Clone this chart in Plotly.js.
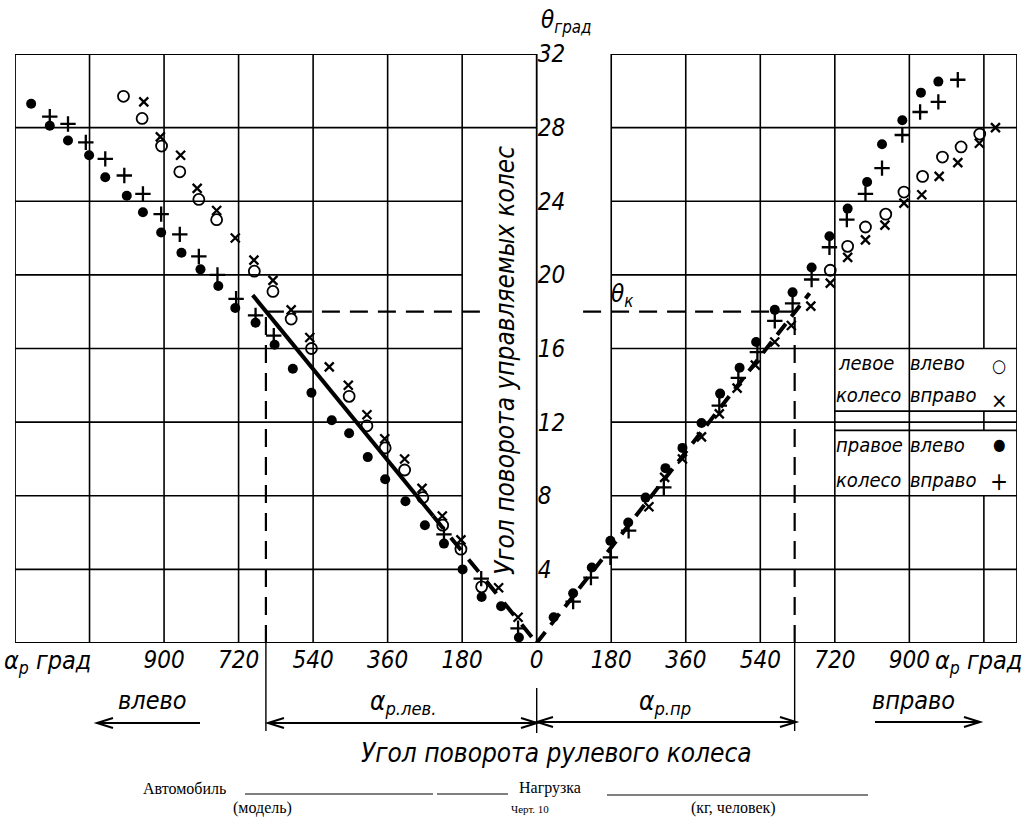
<!DOCTYPE html>
<html>
<head>
<meta charset="utf-8">
<script src="https://cdn.plot.ly/plotly-3.0.1.min.js"></script>
<style>html,body{margin:0;padding:0;background:#fff;}#chart{width:1028px;height:818px;}</style>
</head>
<body>
<div id="chart"></div>
<script>
// ---------- data (alpha in degrees, theta in degrees) ----------
// левое колесо, влево (open circle)
const openAlpha = [-998,-953,-906,-862,-816,-773,-682,-637,-593,-544,-453,-410,-366,-319,-275,-227,-183,-133,
                   709,751,794,843,887,932,980,1025,1070];
const openTheta = [29.7,28.5,27.0,25.6,24.1,23.0,20.2,19.1,17.6,16.0,13.4,11.8,10.6,9.4,7.9,6.4,5.1,3.05,
                   20.25,21.55,22.6,23.3,24.5,25.35,26.4,26.95,27.65];
// левое колесо, вправо (x)
const crossAlpha = [-949,-909,-860,-820,-773,-728,-683,-637,-593,-548,-501,-455,-410,-367,-319,-277,-228,-183,-92,-45,
                    271,309,352,398,441,484,528,575,615,662,709,751,794,841,887,930,972,1017,1069,1108];
const crossTheta = [29.4,27.5,26.5,24.7,23.5,22.0,20.8,19.7,18.1,16.6,15.0,14.0,12.4,11.1,10.0,8.4,6.9,5.6,3.0,1.4,
                    7.4,9.0,10.0,11.2,12.45,13.85,15.1,16.35,17.25,18.3,19.55,20.95,21.9,22.7,23.9,24.35,25.35,26.1,27.15,28.0];
// правое колесо, влево (filled dot)
const dotAlpha = [-1221,-1176,-1132,-1081,-1042,-990,-951,-907,-858,-812,-769,-728,-679,-633,-589,-544,-495,-453,-408,-366,-317,-270,-224,-179,-133,-86,-43,
                  41,88,133,178,221,263,311,352,398,443,490,530,575,618,664,707,751,798,834,883,928,970];
const dotTheta = [29.3,28.1,27.3,26.5,25.3,24.3,23.4,22.3,21.2,20.3,19.4,18.2,17.4,16.2,14.9,13.6,12.1,11.4,10.1,8.9,7.7,6.4,5.4,4.0,2.5,2.0,0.3,
                  1.4,2.7,4.1,5.55,6.55,7.9,9.5,10.6,11.95,13.55,14.95,16.35,18.1,19.05,20.4,22.1,23.6,25.05,27.1,28.4,29.9,30.5];
// правое колесо, вправо (+)
const plusAlpha = [-1176,-1132,-1089,-1042,-996,-951,-907,-862,-816,-771,-726,-679,-635,-224,-134,-45,
                   88,131,178,222,307,441,487,533,575,618,664,707,749,794,834,883,926,970,1017];
const plusTheta = [28.6,28.2,27.2,26.3,25.4,24.4,23.3,22.2,21.0,20.0,18.7,17.8,16.7,5.9,3.5,0.8,
                   2.25,3.55,4.65,6.1,8.45,12.9,14.4,15.8,17.5,18.45,19.75,21.5,23.0,24.4,25.8,27.6,28.85,29.4,30.6];
// approximating lines
const fitLeftSolidAlpha = [-686,-250];
const fitLeftSolidTheta = [18.9,6.9];
const fitLeftDashAlpha  = [-250,0];
const fitLeftDashTheta  = [6.9,0];
const fitRightAlpha = [0,659];
const fitRightTheta = [0,19.0];
// theta_k construction
const thetaK = 18;
const alphaLeftK = -654;
const alphaRightK = 623;
// axes / ticks
const xTickVals = [-900,-720,-540,-360,-180,0,180,360,540,720,900];
const xTickText = ['900','720','540','360','180','0','180','360','540','720','900'];
const yTickVals = [4,8,12,16,20,24,28,32];
const yTickText = ['4','8','12','16','20','24','28','32'];
const gridLeftX = [-1080,-900,-720,-540,-360,-180];
const gridRightX = [180,360,540,720,900];
const gridY = [4,8,12,16,20,24];
const X_MIN = -1260, X_MAX = 1160, Y_MAX = 32;

// ---------- layout helpers ----------
const FONT = "'DejaVu Sans Condensed', 'Liberation Sans Narrow', sans-serif";
const SERIF = "'Liberation Serif', 'DejaVu Serif', serif";
const L = 15, R = 11, T = 54, B = 175, W = 1028, H = 818;
const PW = W - L - R, PH = H - T - B;
const P = px => (px - L) / PW;          // pixel x -> paper
const Q = py => (H - B - py) / PH;      // pixel y -> paper

const shapes = [];
function seg(x0, y0, x1, y1, w, dash) {
  shapes.push({type:'line', xref:'x', yref:'y', x0:x0, y0:y0, x1:x1, y1:y1, layer:'below',
               line:{color:'#000', width:w || 1.6, dash:dash || 'solid'}});
}
function pseg(x0, y0, x1, y1, w) {
  shapes.push({type:'line', xref:'paper', yref:'paper', x0:P(x0), y0:Q(y0), x1:P(x1), y1:Q(y1),
               line:{color:'#000', width:w || 1.5}});
}
function head(tipPx, py, dir) { // dir = -1 points left, +1 points right
  const bx = tipPx - dir * 16;
  shapes.push({type:'path', xref:'paper', yref:'paper',
    path:'M' + P(bx) + ',' + Q(py - 5) + ' L' + P(tipPx) + ',' + Q(py) + ' L' + P(bx) + ',' + Q(py + 5),
    line:{color:'#000', width:2}});
}
function arrowLine(x0, x1, py, leftHead, rightHead) {
  pseg(x0, py, x1, py, 2);
  if (leftHead) head(x0, py, -1);
  if (rightHead) head(x1, py, 1);
}
// frame
seg(X_MIN, 0, X_MAX, 0, 2.2);
seg(X_MIN, 0, X_MIN, Y_MAX, 1.8);
seg(X_MIN, Y_MAX, 0, Y_MAX, 1.8);
seg(X_MIN, 28, 0, 28, 1.8);
seg(0, 0, 0, Y_MAX, 1.8);
seg(180, Y_MAX, X_MAX, Y_MAX, 1.8);
seg(180, 28, X_MAX, 28, 1.8);
seg(X_MAX, 0, X_MAX, Y_MAX, 1.8);
gridLeftX.forEach(x => seg(x, 0, x, Y_MAX));
gridRightX.forEach(x => seg(x, 0, x, Y_MAX));
seg(1080, 0, 1080, 8); seg(1080, 11.55, 1080, 12.6); seg(1080, 16, 1080, Y_MAX);
gridY.forEach(y => { seg(X_MIN, y, -180, y); seg(180, y, X_MAX, y); });
// legend table extra lines
seg(720, 12.6, X_MAX, 12.6); seg(720, 11.55, X_MAX, 11.55);
// theta_k dashed construction
seg(alphaLeftK, thetaK, -122, thetaK, 2.2, '18px,10px');
seg(112, thetaK, alphaRightK, thetaK, 2.2, '18px,10px');
seg(alphaLeftK, 0, alphaLeftK, thetaK, 2.2, '18px,10px');
seg(alphaRightK, 0, alphaRightK, thetaK, 2.2, '18px,10px');
// lines below the axis
shapes.push({type:'line', xref:'x', yref:'paper', x0:alphaLeftK, x1:alphaLeftK, y0:0, y1:Q(731), line:{color:'#000', width:1.4}});
shapes.push({type:'line', xref:'x', yref:'paper', x0:alphaRightK, x1:alphaRightK, y0:0, y1:Q(731), line:{color:'#000', width:1.4}});
shapes.push({type:'line', xref:'x', yref:'paper', x0:0, x1:0, y0:Q(688), y1:Q(733), line:{color:'#000', width:1.4}});
// arrows
arrowLine(97, 200, 723, true, false);
arrowLine(875, 980, 722, false, true);
arrowLine(268, 537, 723, true, true);
arrowLine(537, 796, 722, true, true);
// footer underlines
pseg(245, 794, 433, 794, 1); pseg(437, 794, 508, 794, 1); pseg(607, 795, 868, 795, 1);

const annotations = [];
function txt(text, px, py, size, extra) {
  annotations.push(Object.assign({xref:'paper', yref:'paper', x:P(px), y:Q(py), text:text, showarrow:false,
    xanchor:'center', yanchor:'middle', font:{family:FONT, size:size, color:'#000'}}, extra || {}));
}
txt('<i>θ<sub>град</sub></i>', 566, 22, 24);
txt('<i>Угол поворота управляемых колес</i>', 505, 361, 26, {textangle:-90});
txt('<i>θ<sub>к</sub></i>', 622, 295, 24);
txt('<i>α<sub>p</sub> град</i>', 47, 662, 25);
txt('<i>α<sub>p</sub> град</i>', 978, 662, 25);
txt('<i>влево</i>', 152, 700, 25);
txt('<i>вправо</i>', 913, 700, 25);
txt('<i>α<sub>p.лев.</sub></i>', 403, 702, 26);
txt('<i>α<sub>p.пр</sub></i>', 665, 702, 26);
txt('<i>Угол поворота рулевого колеса</i>', 556, 753, 26);
// legend table text
const LF = 20;
txt('<i>левое</i>', 836, 363, LF, {xanchor:'left'});
txt('<i>колесо</i>', 834, 395, LF, {xanchor:'left'});
txt('<i>правое</i>', 834, 445, LF, {xanchor:'left'});
txt('<i>колесо</i>', 834, 480, LF, {xanchor:'left'});
txt('<i>влево</i>', 908, 363, LF, {xanchor:'left'});
txt('<i>вправо</i>', 908, 395, LF, {xanchor:'left'});
txt('<i>влево</i>', 908, 445, LF, {xanchor:'left'});
txt('<i>вправо</i>', 908, 480, LF, {xanchor:'left'});
txt('○', 999, 365, 18);
txt('×', 999, 400, 22);
txt('●', 999, 445, 16);
txt('+', 999, 482, 24);
// footer
const sf = {family:SERIF, size:16, color:'#000'};
txt('Автомобиль', 184, 788, 16, {font:sf});
txt('Нагрузка', 550, 788, 16, {font:sf});
txt('(модель)', 262, 808, 16, {font:sf});
txt('(кг, человек)', 733, 808, 16, {font:sf});
txt('Черт. 10', 530, 817, 11, {font:{family:SERIF, size:11, color:'#000'}, yanchor:'bottom'});

const mk = (sym, size, lw) => ({symbol:sym, size:size, color:'#000', line:{color:'#000', width:lw}});
const traces = [
  {x:fitLeftSolidAlpha, y:fitLeftSolidTheta, mode:'lines', line:{color:'#000', width:4}, hoverinfo:'skip'},
  {x:fitLeftDashAlpha, y:fitLeftDashTheta, mode:'lines', line:{color:'#000', width:4, dash:'16px,12px'}, hoverinfo:'skip'},
  {x:fitRightAlpha, y:fitRightTheta, mode:'lines', line:{color:'#000', width:4, dash:'14px,9px'}, hoverinfo:'skip'},
  {x:openAlpha, y:openTheta, mode:'markers', name:'левое колесо влево', marker:{symbol:'circle-open', size:11, color:'#000', line:{width:1.8}}},
  {x:crossAlpha, y:crossTheta, mode:'markers', name:'левое колесо вправо', marker:mk('x-thin-open', 9, 2.3)},
  {x:dotAlpha, y:dotTheta, mode:'markers', name:'правое колесо влево', marker:{symbol:'circle', size:10, color:'#000'}},
  {x:plusAlpha, y:plusTheta, mode:'markers', name:'правое колесо вправо', marker:mk('cross-thin-open', 11, 2.3)}
];

const layout = {
  width:W, height:H, margin:{l:L, r:R, t:T, b:B}, paper_bgcolor:'#fff', plot_bgcolor:'#fff',
  showlegend:false,
  xaxis:{range:[X_MIN, X_MAX], showgrid:false, zeroline:false, showline:false, ticks:'',
         tickmode:'array', tickvals:xTickVals, ticktext:xTickText,
         tickfont:{family:FONT, size:24, color:'#000', style:'italic'}},
  yaxis:{range:[0, Y_MAX], showgrid:false, zeroline:false, showline:false, ticks:'',
         anchor:'free', position:(0 - X_MIN) / (X_MAX - X_MIN), side:'right',
         tickmode:'array', tickvals:yTickVals, ticktext:yTickText,
         tickfont:{family:FONT, size:24, color:'#000', style:'italic'}},
  shapes:shapes, annotations:annotations
};
Plotly.newPlot('chart', traces, layout, {displayModeBar:false, staticPlot:true});
</script>
</body>
</html>
